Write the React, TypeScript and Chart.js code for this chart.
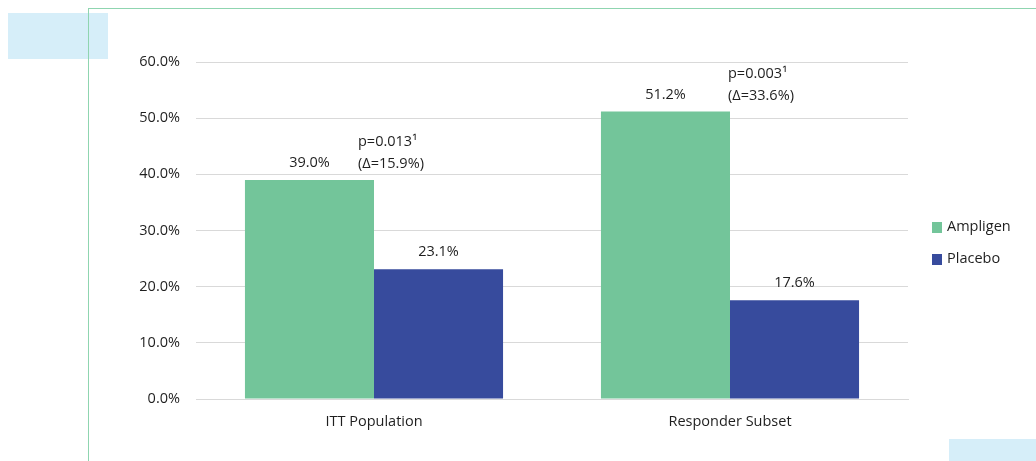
import React, { useEffect, useRef } from "react";
import { Chart, registerables } from "chart.js";

Chart.register(...registerables);

const categories = ["ITT Population", "Responder Subset"];
const seriesNames = ["Ampligen", "Placebo"];
const ampligenValues = [39.0, 51.2];
const placeboValues = [23.1, 17.6];
const annotationLines = [
  ["p=0.013\u00B9", "(\u0394=15.9%)"],
  ["p=0.003\u00B9", "(\u0394=33.6%)"],
];
const yTicks = [0, 10, 20, 30, 40, 50, 60];

const GREEN = "#73c59a";
const BLUE = "#374b9d";
const FONT = "'Open Sans', 'Noto Sans', sans-serif";
const TEXT = "#1f1f1f";
const FS = 14.5;

const labelPlugin = {
  id: "labels",
  afterDatasetsDraw(chart: any) {
    const ctx = chart.ctx;
    ctx.save();
    ctx.font = `${FS}px ${FONT}`;
    ctx.fillStyle = TEXT;
    ctx.textAlign = "center";
    ctx.textBaseline = "middle";
    chart.data.datasets.forEach((ds: any, di: number) => {
      const meta = chart.getDatasetMeta(di);
      meta.data.forEach((bar: any, i: number) => {
        ctx.fillText(ds.data[i].toFixed(1) + "%", bar.x, bar.y - 17);
      });
    });
    // p-value annotations anchored at Ampligen bar
    const xOffsets = [-16, -2];
    const meta0 = chart.getDatasetMeta(0);
    ctx.textAlign = "left";
    annotationLines.forEach((lines, i) => {
      const bar = meta0.data[i];
      const left = bar.x + bar.width / 2 + xOffsets[i];
      ctx.fillText(lines[0], left, bar.y - 38);
      ctx.fillText(lines[1], left, bar.y - 16);
    });
    // legend
    const colors = [GREEN, BLUE];
    const ys = [227, 259];
    seriesNames.forEach((name, i) => {
      ctx.fillStyle = colors[i];
      ctx.fillRect(932, ys[i] - 5, 10, 11);
      ctx.fillStyle = TEXT;
      ctx.textAlign = "left";
      ctx.fillText(name, 947, ys[i]);
    });
    ctx.restore();
  },
};

export default function App() {
  const ref = useRef<HTMLCanvasElement>(null);
  useEffect(() => {
    if (!ref.current) return;
    const chart = new Chart(ref.current, {
      type: "bar",
      data: {
        labels: categories,
        datasets: [
          {
            label: seriesNames[0],
            data: ampligenValues,
            backgroundColor: GREEN,
            categoryPercentage: 0.725,
            barPercentage: 1,
          },
          {
            label: seriesNames[1],
            data: placeboValues,
            backgroundColor: BLUE,
            categoryPercentage: 0.725,
            barPercentage: 1,
          },
        ],
      },
      options: {
        animation: false,
        responsive: false,
        maintainAspectRatio: false,
        layout: { padding: { left: 100, right: 128, top: 62, bottom: 22 } },
        plugins: { legend: { display: false }, tooltip: { enabled: false } },
        scales: {
          x: {
            grid: { display: false, drawTicks: false },
            border: { display: true, color: "#d9d9d9", width: 1 },
            ticks: { color: TEXT, font: { family: FONT, size: FS }, padding: 14 },
            afterFit: (s: any) => {
              s.height = 40;
            },
          },
          y: {
            min: 0,
            max: 60,
            afterBuildTicks: (s: any) => {
              s.ticks = yTicks.map((v) => ({ value: v }));
            },
            grid: { color: "#d9d9d9", drawTicks: false },
            border: { display: false },
            ticks: {
              color: TEXT,
              font: { family: FONT, size: FS },
              padding: 16,
              callback: (v: any) => Number(v).toFixed(1) + "%",
            },
            afterFit: (s: any) => {
              s.width = 96;
            },
          },
        },
      },
      plugins: [labelPlugin],
    });
    return () => chart.destroy();
  }, []);
  return (
    <div style={{ position: "fixed", left: 0, top: 0, width: 1036, height: 461, background: "#fff", overflow: "hidden" }}>
      <div style={{ position: "absolute", left: 8, top: 13, width: 100, height: 46, background: "#d6eef9" }} />
      <div style={{ position: "absolute", left: 949, top: 439, width: 87, height: 22, background: "#d6eef9" }} />
      <div style={{ position: "absolute", left: 88, top: 8, width: 948, height: 1, background: "#8fd5b0" }} />
      <div style={{ position: "absolute", left: 88, top: 8, width: 1, height: 453, background: "#8fd5b0" }} />
      <canvas ref={ref} width={1036} height={461} style={{ position: "absolute", left: 0, top: 0 }} />
    </div>
  );
}
